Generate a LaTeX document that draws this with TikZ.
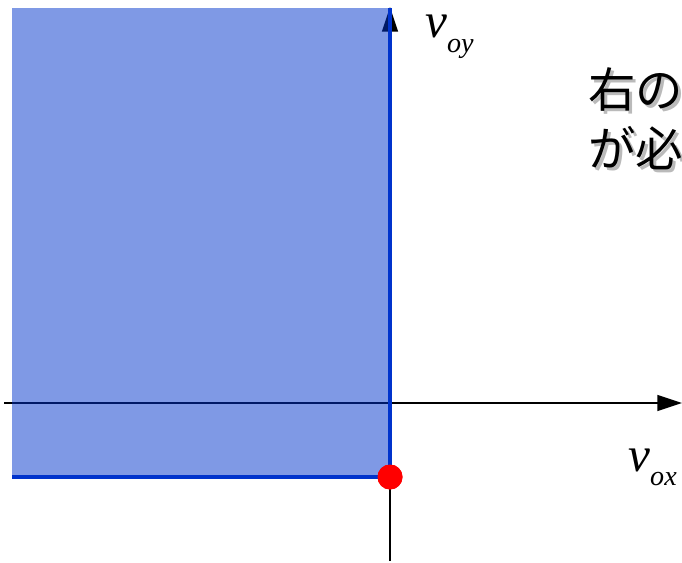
\documentclass[tikz,border=0pt]{standalone}
\usepackage{fontspec}
\setmainfont{Liberation Serif}
\newfontfamily\jpfont{Noto Sans CJK JP}
\usetikzlibrary{arrows.meta}
\definecolor{edgeblue}{HTML}{0033CC}
\definecolor{dotred}{HTML}{FF0000}
\newcommand{\vel}[1]{{\fontsize{28}{28}\selectfont\textit{v}\raisebox{-0.3em}{\fontsize{16}{16}\selectfont\textit{#1}}}}
\newcommand{\jptext}{右の\\が必}

\begin{document}
\begin{tikzpicture}[x=0.02cm, y=-0.02cm, >={Triangle[length=14pt, width=9pt]},
    axis/.style={->, line width=1.1pt, black},
    bound/.style={line width=2.3pt, edgeblue},
    dot/.style={circle, fill=dotred, minimum size=0.5cm, inner sep=0pt},
    jp/.style={anchor=north west, align=left, inner sep=0pt, font=\jpfont\fontsize{27}{34}\selectfont}]
  \useasboundingbox (0,0) rectangle (682,563);
  \clip (0,0) rectangle (682,563);
  % axes
  \coordinate (xl) at (4,403);
  \coordinate (xr) at (682,403);
  \coordinate (yb) at (390,561);
  \coordinate (yt) at (390,7);
  \draw[axis] (xl) -- (xr);
  \draw[axis] (yb) -- (yt);
  % allowed region
  \coordinate (tl) at (12,8);
  \coordinate (tr) at (390,8);
  \coordinate (bl) at (12,477);
  \fill[edgeblue, opacity=0.5] (tl) rectangle (390,477);
  \node[dot] (p) at (390,477) {};
  \draw[bound] (tr) -- (p.center) -- (bl);
  \node[dot] at (p) {};
  % labels
  \node[anchor=base west, inner sep=0pt] (vy) at (425,38) {\vel{oy}};
  \node[anchor=base west, inner sep=0pt] (vx) at (628,471) {\vel{ox}};
  \node[jp, text=black!45, opacity=0.6] at (591,70) {\jptext};
  \node[jp] (note) at (588,67) {\jptext};
\end{tikzpicture}
\end{document}
